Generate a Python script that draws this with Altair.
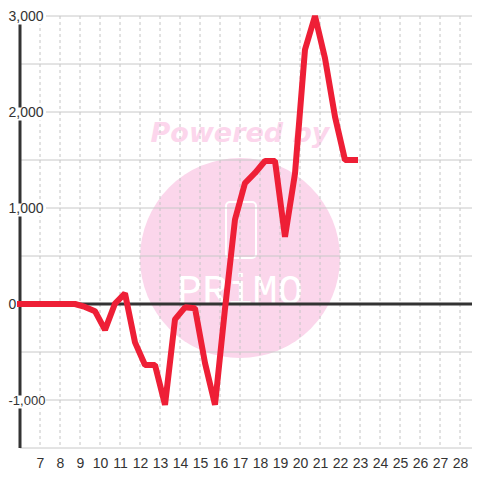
import altair as alt
import pandas as pd

# ---- data ----
x_vals = [6.0, 6.75, 7.25, 7.75, 8.25, 8.75, 9.25, 9.75, 10.25, 10.75, 11.25, 11.75,
          12.25, 12.75, 13.25, 13.75, 14.25, 14.75, 15.25, 15.75, 16.25, 16.75, 17.25,
          17.75, 18.25, 18.75, 19.25, 19.75, 20.25, 20.75, 21.25, 21.75, 22.25, 22.75]
y_vals = [0, 0, 0, 0, 0, 0, -30, -75, -270, 5, 110, -400,
          -635, -635, -1050, -160, -35, -45, -615, -1050, -50, 880, 1260,
          1365, 1490, 1490, 700, 1360, 2650, 3000, 2560, 1950, 1500, 1500]

x_ticks = [7, 8, 9, 10, 11, 12, 13, 14, 15, 16, 17, 18, 19, 20, 21, 22, 23, 24, 25, 26, 27, 28]
y_labels = [-1000, 0, 1000, 2000, 3000]
y_grid = [-1500, -1000, -500, 500, 1000, 1500, 2000, 2500, 3000]
y_boxed = [-1000, 1000, 2000, 3000]

df = pd.DataFrame({"x": x_vals, "y": y_vals})
one = pd.DataFrame({"a": [0]})

xs = alt.Scale(domain=[6, 28.6], nice=False, zero=False)
ys = alt.Scale(domain=[-1500, 3000], nice=False, zero=False)

xax = alt.Axis(values=x_ticks, title=None, grid=False, domain=False, ticks=False, tickSize=0,
               labelPadding=8, labelFontSize=14, labelFont="Liberation Sans", labelColor="#333333",
               labelExpr="format(datum.value, 'd')", labelFlush=False, labelOverlap=False)
yax = alt.Axis(values=y_labels, title=None, grid=False, domain=False, ticks=False, tickSize=0,
               labelPadding=12, labelAlign="left",
               labelFontSize={"condition": {"test": "datum.value < 0", "value": 13}, "value": 14},
               labelFont="Liberation Sans", labelColor="#333333",
               labelExpr="replace(format(datum.value, ','), '\u2212', '-')", zindex=1,
               labelFlush=False, labelOverlap=False)

# ---- watermark ----
circle = alt.Chart(one).mark_circle(color="#fbd6eb", opacity=1, size=40000).encode(
    x=alt.value(220), y=alt.value(242))
powered = alt.Chart(one).mark_text(text="Powered by", font="DejaVu Sans", fontSize=27,
                                   fontWeight="bold", fontStyle="italic", color="#fcd6ec",
                                   baseline="alphabetic", align="center").encode(
    x=alt.value(220), y=alt.value(126))
icon = alt.Chart(one).mark_rect(filled=False, stroke="white", strokeWidth=2, cornerRadius=4).encode(
    x=alt.value(206), x2=alt.value(236), y=alt.value(186), y2=alt.value(242))
primo = alt.Chart(one).mark_text(text="PRiMO", font="Liberation Mono", fontSize=42, color="white",
                                 baseline="alphabetic", align="center").encode(
    x=alt.value(220), y=alt.value(288))

# ---- grid and axes lines ----
v_grid = alt.Chart(pd.DataFrame({"t": x_ticks})).mark_rule(
    color="#c4c4c4", strokeWidth=1, strokeDash=[3, 3]).encode(
    x=alt.X("t:Q", scale=xs, axis=xax))
h_grid = alt.Chart(pd.DataFrame({"v": y_grid})).mark_rule(color="#c8c8c8", strokeWidth=1).encode(
    y=alt.Y("v:Q", scale=ys, axis=yax))
y_line = alt.Chart(one).mark_rule(color="#333333", strokeWidth=3).encode(
    x=alt.X(datum=6, scale=xs, axis=xax))
zero_line = alt.Chart(one).mark_rule(color="#333333", strokeWidth=3).encode(
    y=alt.Y(datum=0, scale=ys, axis=yax))
boxes = alt.Chart(pd.DataFrame({"v": y_boxed})).mark_tick(
    orient="horizontal", color="white", opacity=1, thickness=13, size=42, yOffset=2).encode(
    y=alt.Y("v:Q", scale=ys, axis=yax), x=alt.value(5))

# ---- data line ----
line = alt.Chart(df).mark_line(color="#ee1f36", strokeWidth=6, strokeCap="square",
                               strokeJoin="bevel").encode(
    x=alt.X("x:Q", scale=xs, axis=xax),
    y=alt.Y("y:Q", scale=ys, axis=yax))

chart = alt.layer(circle, powered, icon, primo, v_grid, h_grid, y_line, zero_line, boxes, line).properties(
    width=452, height=432,
    autosize=alt.AutoSizeParams(type="none"),
    padding={"left": 12, "top": 8, "right": 0, "bottom": 24},
    background="white",
).configure_view(strokeWidth=0)

chart.save("out.html", embed_options={"renderer": "svg", "actions": False})
